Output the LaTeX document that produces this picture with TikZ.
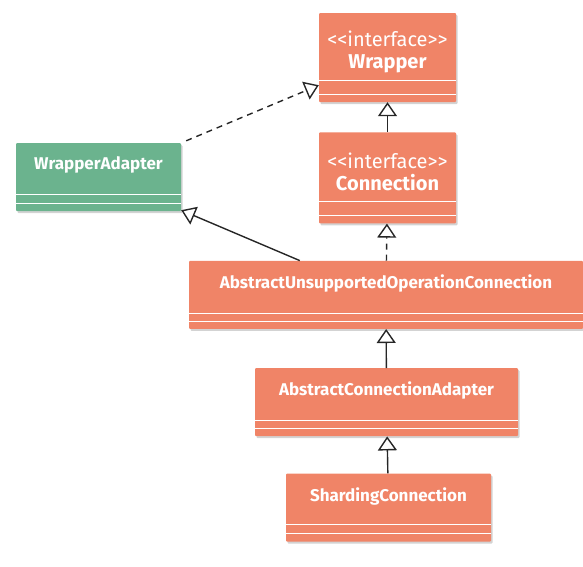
\documentclass[tikz,border=0pt]{standalone}
\usepackage{fontspec}
\setmainfont{Fira Sans}
\usetikzlibrary{positioning,arrows.meta,shadows}

\definecolor{klassorange}{HTML}{F08467}
\definecolor{klassgreen}{HTML}{6BB38E}

\tikzset{
    klass/.style={rectangle, fill=klassorange, rounded corners=1pt, drop shadow={shadow xshift=1.5pt, shadow yshift=-2pt, opacity=0.35}, minimum height=68pt, inner sep=0pt},
    klasstext/.style={text=white, font=\fontsize{17}{21}\selectfont\bfseries, align=center, inner sep=0pt},
    ifacetext/.style={klasstext, font=\fontsize{20}{22}\selectfont\bfseries},
    inherit/.style={draw=black!85, line width=1.4pt, -{Triangle[open, width=19pt, length=14pt]}},
    realize/.style={inherit, dashed, dash pattern=on 6pt off 5pt},
}

\newcommand{\parts}[2]{% compartment lines of a class box
    \draw[white, line width=0.9pt] ([yshift=#2pt]#1.south west) -- ([yshift=#2pt]#1.south east);
    \draw[white, line width=0.9pt] ([yshift=8pt]#1.south west) -- ([yshift=8pt]#1.south east);
}

\begin{document}
\begin{tikzpicture}
    \useasboundingbox (0,0) rectangle (583pt,-566pt);

    \node [klass, minimum width=137pt, minimum height=89pt] (wrap) at (387.5pt,-57.5pt) {};
    \node [klass, below=30pt of wrap, minimum width=137pt, minimum height=91pt] (conn) {};
    \node [klass, below=37pt of conn, minimum width=394pt, xshift=-1.5pt] (abs) {};
    \node [klass, below=39pt of abs, minimum width=263pt, xshift=0.5pt] (aca) {};
    \node [klass, below=37pt of aca, minimum width=205pt, xshift=2pt] (shard) {};
    \node [klass, fill=klassgreen, minimum width=165pt] (adapt) at (98.5pt,-177pt) {};

    \parts{wrap}{22}
    \parts{conn}{22}
    \parts{abs}{16}
    \parts{aca}{16}
    \parts{shard}{17}
    \parts{adapt}{17}

    \node [ifacetext, below=18pt of wrap.north] (wrapname) {\mdseries <{}<interface>{}>\\Wrapper};
    \node [ifacetext, below=20pt of conn.north] (connname) {\mdseries <{}<interface>{}>\\Connection};
    \node [klasstext, below=14pt of abs.north] (absname) {AbstractUnsupportedOperationConnection};
    \node [klasstext, below=14pt of aca.north] (acaname) {AbstractConnectionAdapter};
    \node [klasstext, below=14pt of shard.north] (shardname) {ShardingConnection};
    \node [klasstext, below=14pt of adapt.north] (adaptname) {WrapperAdapter};

    \draw [inherit] (conn) -- (wrap);
    \draw [realize] (abs) -- (conn);
    \draw [inherit] (aca) -- (abs);
    \draw [inherit] (shard) -- (aca);
    \draw [realize] ([xshift=5pt, yshift=2pt]adapt.north east) -- ([yshift=17pt]wrap.south west);
    \draw [inherit] ([xshift=111pt]abs.north west) -- ([yshift=1pt]adapt.south east);
\end{tikzpicture}
\end{document}
